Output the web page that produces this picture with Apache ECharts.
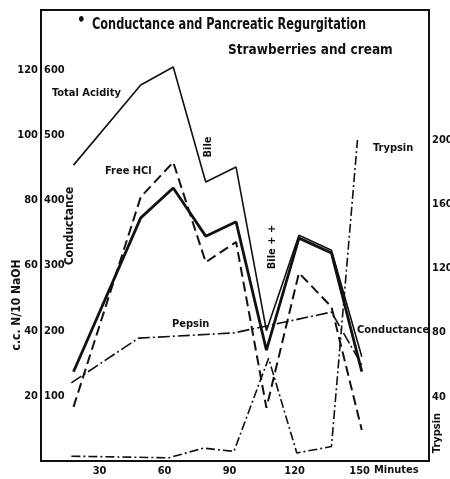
<!DOCTYPE html>
<html>
<head>
<meta charset="utf-8">
<script src="https://cdn.jsdelivr.net/npm/echarts@6/dist/echarts.min.js"></script>
<style>
  html, body { margin: 0; padding: 0; background: #fff; }
  #chart { width: 450px; height: 479px; }
</style>
</head>
<body>
<div id="chart"></div>
<script>
// Sampling times (minutes after the meal)
const times = [18, 49, 64, 79, 93, 107, 122, 137, 151];
// Titration values, c.c. N/10 NaOH
const totalAcidity = [90.8, 115.4, 120.9, 85.6, 90.2, 40.0, 69.3, 64.7, 32.0];
const freeHCl = [16.6, 81.0, 91.7, 61.0, 67.2, 16.3, 57.7, 47.3, 9.5];
// Conductance, on the 100-600 scale
const conductance = [137, 373, 419, 345, 367, 170, 342, 319, 137];
// Pepsin
const pepsinTimes = [17, 48, 92, 137, 151];
const pepsin = [24.0, 37.7, 39.3, 45.7, 29.5];
// Trypsin, right-hand scale
const trypsinTimes = [17, 62, 78, 92, 108, 121, 137, 149];
const trypsin = [3, 2, 8, 6, 64, 5, 9, 200];

// Axis labels
const minuteTicks = [30, 60, 90, 120, 150];
const acidTicks = [20, 40, 60, 80, 100, 120];
const condTicks = [100, 200, 300, 400, 500, 600];
const trypsinTicks = [40, 80, 120, 160, 200];

const FONT = '"DejaVu Sans Condensed", "DejaVu Sans", sans-serif';
const INK = '#111';

const pairs = (xs, ys) => xs.map((x, i) => [x, ys[i]]);

const lineSeries = (name, data, yAxisIndex, width, type) => ({
  name, type: 'line', data, yAxisIndex,
  symbol: 'none', silent: true, animation: false,
  lineStyle: { color: INK, width, type }
});

const chart = echarts.init(document.getElementById('chart'), null, { renderer: 'canvas' });

const labelStyle = { color: INK, fontFamily: FONT, fontWeight: 'bold', fontSize: 11 };

const annotations = [
  { text: '•', x: 77, y: 21, size: 15 },
  { text: 'Conductance and Pancreatic Regurgitation', x: 92, y: 25, size: 12.6, sy: 1.3 },
  { text: 'Strawberries and cream', x: 228, y: 50, size: 13.5, sy: 1.1 },
  { text: 'Total Acidity', x: 52, y: 93, size: 11 },
  { text: 'Free HCl', x: 105, y: 171, size: 11 },
  { text: 'Pepsin', x: 172, y: 324, size: 11 },
  { text: 'Trypsin', x: 373, y: 148, size: 11 },
  { text: 'Conductance', x: 357, y: 330, size: 11 },
  { text: 'Minutes', x: 374, y: 470, size: 11 },
  { text: 'c.c. N/10 NaOH', x: 17, y: 305, size: 12, rot: true },
  { text: 'Conductance', x: 70, y: 226, size: 12, rot: true },
  { text: 'Bile', x: 208, y: 147, size: 11, rot: true },
  { text: 'Bile + +', x: 272, y: 247, size: 11, rot: true },
  { text: 'Trypsin', x: 437, y: 433, size: 11, rot: true }
];

chart.setOption({
  backgroundColor: '#fff',
  animation: false,
  grid: {
    left: 41, right: 21, top: 10, bottom: 18,
    outerBoundsMode: 'none',
    containLabel: false,
    show: true, borderColor: INK, borderWidth: 2, backgroundColor: 'transparent'
  },
  xAxis: {
    type: 'value', min: 3, max: 182,
    axisLine: { show: true, lineStyle: { color: INK, width: 2 } },
    axisTick: { show: false },
    splitLine: { show: false },
    axisLabel: { ...labelStyle, margin: 5, customValues: minuteTicks }
  },
  yAxis: [
    {
      type: 'value', position: 'left', min: 0, max: 138.4,
      axisLine: { show: true, lineStyle: { color: INK, width: 2 } },
      axisTick: { show: false },
      splitLine: { show: false },
      axisLabel: { ...labelStyle, margin: 3, customValues: acidTicks }
    },
    {
      type: 'value', position: 'left', min: 0, max: 692,
      axisLine: { show: false },
      axisTick: { show: false },
      splitLine: { show: false },
      axisLabel: { ...labelStyle, inside: true, margin: 3, customValues: condTicks }
    },
    {
      type: 'value', position: 'right', min: 0, max: 281,
      axisLine: { show: true, lineStyle: { color: INK, width: 2 } },
      axisTick: { show: false },
      splitLine: { show: false },
      axisLabel: { ...labelStyle, margin: 3, customValues: trypsinTicks }
    }
  ],
  series: [
    lineSeries('Total Acidity', pairs(times, totalAcidity), 0, 1.6, 'solid'),
    lineSeries('Free HCl', pairs(times, freeHCl), 0, 2, [10, 5]),
    lineSeries('Conductance', pairs(times, conductance), 1, 2.8, 'solid'),
    lineSeries('Pepsin', pairs(pepsinTimes, pepsin), 0, 1.6, [12, 3, 2, 3]),
    lineSeries('Trypsin', pairs(trypsinTimes, trypsin), 2, 1.6, [9, 3, 2, 3])
  ],
  graphic: annotations.map(a => ({
    type: 'text',
    x: a.x, y: a.y,
    rotation: a.rot ? Math.PI / 2 : 0,
    scaleY: a.sy || 1,
    silent: true,
    style: {
      text: a.text,
      fill: INK,
      font: `bold ${a.size}px ${FONT}`,
      align: a.rot ? 'center' : 'left',
      verticalAlign: 'middle'
    }
  }))
});
</script>
</body>
</html>
